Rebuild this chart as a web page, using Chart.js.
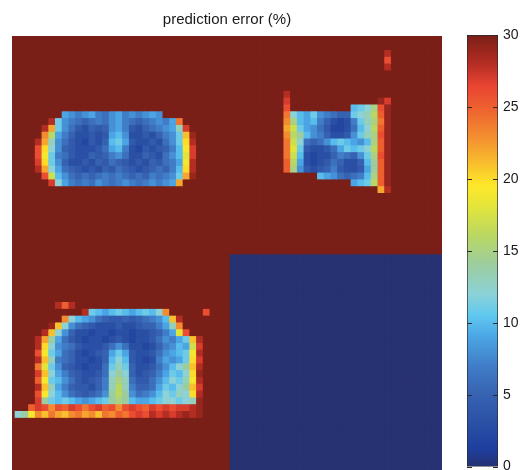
<!DOCTYPE html>
<html>
<head>
<meta charset="utf-8">
<script src="https://cdn.jsdelivr.net/npm/chart.js@4.4.1/dist/chart.umd.min.js"></script>
<style>
  html, body { margin: 0; padding: 0; background: #ffffff; overflow: hidden; width: 525px; height: 470px; }
  #main { position: absolute; left: 0; top: 0; }
  #cbar { position: absolute; left: 440px; top: 0; }
</style>
</head>
<body>
<canvas id="main" width="455" height="480"></canvas>
<canvas id="cbar" width="85" height="480"></canvas>
<script>
// ---------------- data ----------------
const titleText = "prediction error (%)";
// value levels: '0'..'9' = 0..9, 'A'..'U' = 10..30 (30 = saturated)
const levelChars = "0123456789ABCDEFGHIJKLMNOPQRSTU";
// 64 rows (top to bottom) x 64 columns (left to right)
const errorRows = [
"UUUUUUUU UUUUUUUU UUUUUUUU UUUUUUUU UUUUUUUU UUUUUUUU UUUUUUUU UUUUUUUU",
"UUUUUUUU UUUUUUUU UUUUUUUU UUUUUUUU UUUUUUUU UUUUUUUU UUUUUUUU UUUUUUUU",
"UUUUUUUU UUUUUUUU UUUUUUUU UUUUUUUU UUUUUUUU UUUUUUUU UUUUUUUS UUUUUUUU",
"UUUUUUUU UUUUUUUU UUUUUUUU UUUUUUUU UUUUUUUU UUUUUUUU UUUUUUUQ UUUUUUUU",
"UUUUUUUU UUUUUUUU UUUUUUUU UUUUUUUU UUUUUUUU UUUUUUUU UUUUUUUS UUUUUUUU",
"UUUUUUUU UUUUUUUU UUUUUUUU UUUUUUUU UUUUUUUU UUUUUUUU UUUUUUUU UUUUUUUU",
"UUUUUUUU UUUUUUUU UUUUUUUU UUUUUUUU UUUUUUUU UUUUUUUU UUUUUUUU UUUUUUUU",
"UUUUUUUU UUUUUUUU UUUUUUUU UUUUUUUU UUUUUUUU UUUUUUUU UUUUUUUU UUUUUUUU",
"UUUUUUUU UUUUUUUU UUUUUUUU UUUUUUUU UUUUUUUU SUUUUUUU UUUUUUUU UUUUUUUU",
"UUUUUUUU UUUUUUUU UUUUUUUU UUUUUUUU UUUUUUUU RUUUUUUU UUUUUUTR UUUUUUUU",
"UUUUUUUU UUUUUUUU UUUUUUUU UUUUUUUU UUUUUUUU QUUUUUUU UUABCFQT UUUUUUUU",
"UUUUUUU9 87897689 787898UU UUUUUUUU UUUUUUUU OCA9B876 55BCDGPT UUUUUUUU",
"UUUUUSB8 76567689 76567879 OUUUUUUU UUUUUUUU NFA9A753 237BDFOT UUUUUUUU",
"UUUUSMB8 64354589 74356789 DRUUUUUU UUUUUUUU MHB98642 236ACGPT UUUUUUUU",
"UUUUNG97 5334349A 83343578 BLTUUUUU UUUUUUUU NGEA8753 348BDFQT UUUUUUUU",
"UUUSMD86 432435AB 94334368 BKSUUUUU UUUUUUUU OHC6568A BA98AFPT UUUUUUUU",
"UUUQKC85 4333469A 73243457 AJRUUUUU UUUUUUUU OIB43346 9BABCGPT UUUUUUUU",
"UUUQJB76 43354578 63354368 AIRUUUUU UUUUUUUU OHA32335 7658BFQT UUUUUUUU",
"UUURKB85 33435465 43435467 9JSUUUUU UUUUUUUU PG932346 5335AEPT UUUUUUUU",
"UUUSMC96 54343546 54345657 AKSUUUUU UUUUUUUU PF843457 43349EPT UUUUUUUU",
"UUUUQHA8 65656767 65657678 BMTUUUUU UUUUUUUU UUUUUA98 6567AFPT UUUUUUUU",
"UUUUURC9 76768767 87678789 MUUUUUUU UUUUUUUU UUUUUUUU UU9ABGPT UUUUUUUU",
"UUUUUUUU UUUUUUUU UUUUUUUU UUUUUUUU UUUUUUUU UUUUUUUU UUUUUUMS UUUUUUUU",
"UUUUUUUU UUUUUUUU UUUUUUUU UUUUUUUU UUUUUUUU UUUUUUUU UUUUUUUU UUUUUUUU",
"UUUUUUUU UUUUUUUU UUUUUUUU UUUUUUUU UUUUUUUU UUUUUUUU UUUUUUUU UUUUUUUU",
"UUUUUUUU UUUUUUUU UUUUUUUU UUUUUUUU UUUUUUUU UUUUUUUU UUUUUUUU UUUUUUUU",
"UUUUUUUU UUUUUUUU UUUUUUUU UUUUUUUU UUUUUUUU UUUUUUUU UUUUUUUU UUUUUUUU",
"UUUUUUUU UUUUUUUU UUUUUUUU UUUUUUUU UUUUUUUU UUUUUUUU UUUUUUUU UUUUUUUU",
"UUUUUUUU UUUUUUUU UUUUUUUU UUUUUUUU UUUUUUUU UUUUUUUU UUUUUUUU UUUUUUUU",
"UUUUUUUU UUUUUUUU UUUUUUUU UUUUUUUU UUUUUUUU UUUUUUUU UUUUUUUU UUUUUUUU",
"UUUUUUUU UUUUUUUU UUUUUUUU UUUUUUUU UUUUUUUU UUUUUUUU UUUUUUUU UUUUUUUU",
"UUUUUUUU UUUUUUUU UUUUUUUU UUUUUUUU UUUUUUUU UUUUUUUU UUUUUUUU UUUUUUUU",
"UUUUUUUU UUUUUUUU UUUUUUUU UUUUUUUU 00000000 00000000 00000000 00000000",
"UUUUUUUU UUUUUUUU UUUUUUUU UUUUUUUU 00000000 00000000 00000000 00000000",
"UUUUUUUU UUUUUUUU UUUUUUUU UUUUUUUU 00000000 00000000 00000000 00000000",
"UUUUUUUU UUUUUUUU UUUUUUUU UUUUUUUU 00000000 00000000 00000000 00000000",
"UUUUUUUU UUUUUUUU UUUUUUUU UUUUUUUU 00000000 00000000 00000000 00000000",
"UUUUUUUU UUUUUUUU UUUUUUUU UUUUUUUU 00000000 00000000 00000000 00000000",
"UUUUUUUU UUUUUUUU UUUUUUUU UUUUUUUU 00000000 00000000 00000000 00000000",
"UUUUUUSP SUUUUUUU UUUUUUUU UUUUUUUU 00000000 00000000 00000000 00000000",
"UUUUUUUU UUSBA9AB A9ABACNU UUUUQUUU 00000000 00000000 00000000 00000000",
"UUUUUUUN CA986544 545678AL SUUUUUUU 00000000 00000000 00000000 00000000",
"UUUUUTLC 86543334 3345579D NUUUUUUU 00000000 00000000 00000000 00000000",
"UUUUSLC8 53323323 32334579 IQUUUUUU 00000000 00000000 00000000 00000000",
"UUUSME96 43233234 32334687 9BLSUUUU 00000000 00000000 00000000 00000000",
"UUUSKC87 64333468 63323578 A9HRUUUU 00000000 00000000 00000000 00000000",
"UUUQJB96 5323459B 94334689 ABJSUUUU 00000000 00000000 00000000 00000000",
"UUUSLD76 533235AC A4323798 9BKRUUUU 00000000 00000000 00000000 00000000",
"UUUOIB85 432336BD B533468A CELSUUUU 00000000 00000000 00000000 00000000",
"UUURLC97 543346CE C534579B ACKTUUUU 00000000 00000000 00000000 00000000",
"UUUPJBA8 643457DF D64468AC BDJSUUUU 00000000 00000000 00000000 00000000",
"UUUSLD97 544357DG D75569BA CELRUUUU 00000000 00000000 00000000 00000000",
"UUUQJCA8 654568EG E8678ACB DCKSUUUU 00000000 00000000 00000000 00000000",
"UUUREBAB A989ABEF EA99ABCC BCDTUUUU 00000000 00000000 00000000 00000000",
"UUPRQNQP RQOQRPQN QRQPRQRQ RRSTUUUU 00000000 00000000 00000000 00000000",
"CEJNLOML NOMNLONP OQRQSRSR STSTUUUU 00000000 00000000 00000000 00000000",
"UUUUUUUU UUUUUUUU UUUUUUUU UUUUUUUU 00000000 00000000 00000000 00000000",
"UUUUUUUU UUUUUUUU UUUUUUUU UUUUUUUU 00000000 00000000 00000000 00000000",
"UUUUUUUU UUUUUUUU UUUUUUUU UUUUUUUU 00000000 00000000 00000000 00000000",
"UUUUUUUU UUUUUUUU UUUUUUUU UUUUUUUU 00000000 00000000 00000000 00000000",
"UUUUUUUU UUUUUUUU UUUUUUUU UUUUUUUU 00000000 00000000 00000000 00000000",
"UUUUUUUU UUUUUUUU UUUUUUUU UUUUUUUU 00000000 00000000 00000000 00000000",
"UUUUUUUU UUUUUUUU UUUUUUUU UUUUUUUU 00000000 00000000 00000000 00000000",
"UUUUUUUU UUUUUUUU UUUUUUUU UUUUUUUU 00000000 00000000 00000000 00000000"
];
const colorbarMin = 0;
const colorbarMax = 30;
const colorbarTicks = [0, 5, 10, 15, 20, 25, 30];

// ---------------- colour map (style) ----------------
const colorStops = [
  [0,    [38, 50, 114]],
  [1.2,  [30, 62, 158]],
  [3,    [42, 80, 165]],
  [5,    [55, 98, 178]],
  [7,    [64, 125, 200]],
  [9,    [75, 165, 228]],
  [10.5, [95, 200, 240]],
  [12,   [140, 210, 215]],
  [14,   [155, 205, 160]],
  [16,   [185, 215, 100]],
  [18,   [225, 228, 60]],
  [19.5, [254, 232, 42]],
  [21,   [248, 192, 45]],
  [23,   [243, 140, 48]],
  [25,   [238, 95, 48]],
  [26.5, [232, 68, 50]],
  [28,   [180, 45, 35]],
  [30,   [122, 31, 23]]
];
function rgbStr(c) { return 'rgb(' + c.map(Math.round).join(',') + ')'; }
function colorFor(v) {
  if (v <= colorStops[0][0]) return rgbStr(colorStops[0][1]);
  for (let i = 1; i < colorStops.length; i++) {
    const [v1, c1] = colorStops[i];
    const [v0, c0] = colorStops[i - 1];
    if (v <= v1) {
      const t = (v - v0) / (v1 - v0);
      return rgbStr(c0.map((a, k) => a + (c1[k] - a) * t));
    }
  }
  return rgbStr(colorStops[colorStops.length - 1][1]);
}

// ---------------- build cells ----------------
const grid = errorRows.map(r => r.replace(/ /g, '').padEnd(64, 'U').slice(0, 64)
  .split('').map(ch => Math.max(0, levelChars.indexOf(ch))));
const nRows = grid.length;
const nCols = grid[0].length;

const datasets = grid.map((vals, r) => ({
  data: vals.map((v, c) => ({ x: c, y: [r, r + 1] })),
  backgroundColor: vals.map(v => colorFor(v)),
  borderWidth: 0,
  grouped: false,
  barPercentage: 1,
  categoryPercentage: 1
}));

const fontFamily = "'Liberation Sans', Arial, Helvetica, sans-serif";

const areaBackground = {
  id: 'areaBackground',
  beforeDatasetsDraw(chart) {
    const { ctx, chartArea: a } = chart;
    ctx.save();
    ctx.fillStyle = colorFor(colorbarMax);
    ctx.fillRect(a.left, a.top, a.right - a.left, a.bottom - a.top);
    ctx.restore();
  }
};

new Chart(document.getElementById('main'), {
  type: 'bar',
  data: { datasets },
  options: {
    responsive: false,
    animation: false,
    events: [],
    devicePixelRatio: 1,
    layout: { padding: { left: 12, right: 13, top: 0, bottom: 8 } },
    plugins: {
      legend: { display: false },
      tooltip: { enabled: false },
      title: {
        display: true,
        text: titleText,
        color: '#1a1a1a',
        font: { family: fontFamily, size: 15, weight: 'normal' },
        padding: { top: 11, bottom: 7 }
      }
    },
    scales: {
      x: { type: 'linear', min: -0.95, max: nCols - 0.95, offset: false, display: false },
      y: { type: 'linear', min: 0, max: nRows, reverse: true, display: false }
    }
  },
  plugins: [areaBackground]
});

// ---------------- colour bar ----------------
const cbarTickMarks = {
  id: 'cbarTickMarks',
  afterDatasetsDraw(chart) {
    const { ctx, chartArea: a } = chart;
    const ys = chart.scales.y;
    ctx.save();
    ctx.strokeStyle = '#2a2a2a';
    ctx.lineWidth = 1;
    ys.ticks.forEach(t => {
      const y = Math.round(ys.getPixelForValue(t.value)) + 0.5;
      ctx.beginPath();
      ctx.moveTo(a.left, y); ctx.lineTo(a.left + 5, y);
      ctx.moveTo(a.right - 5, y); ctx.lineTo(a.right, y);
      ctx.stroke();
    });
    ctx.restore();
  }
};

new Chart(document.getElementById('cbar'), {
  type: 'bar',
  data: {
    labels: [''],
    datasets: [{
      data: [[colorbarMin, colorbarMax]],
      backgroundColor: (context) => {
        const chart = context.chart;
        const { ctx, chartArea } = chart;
        if (!chartArea) return null;
        const ys = chart.scales.y;
        const g = ctx.createLinearGradient(0, ys.getPixelForValue(colorbarMin), 0, ys.getPixelForValue(colorbarMax));
        colorStops.forEach(([v, c]) => g.addColorStop((v - colorbarMin) / (colorbarMax - colorbarMin), rgbStr(c)));
        return g;
      },
      borderColor: '#2a2a2a',
      borderWidth: 1,
      borderSkipped: false,
      barPercentage: 1,
      categoryPercentage: 1
    }]
  },
  options: {
    responsive: false,
    animation: false,
    events: [],
    devicePixelRatio: 1,
    layout: { padding: { left: 27, right: 0, top: 35, bottom: 13 } },
    plugins: { legend: { display: false }, tooltip: { enabled: false } },
    scales: {
      x: { display: false },
      y: {
        position: 'right',
        min: colorbarMin,
        max: colorbarMax,
        afterBuildTicks: s => { s.ticks = colorbarTicks.map(v => ({ value: v })); },
        afterFit: s => { s.width = 27; },
        ticks: { padding: 5, color: '#1a1a1a', font: { family: fontFamily, size: 14 } },
        grid: { display: false, drawTicks: false },
        border: { display: false }
      }
    }
  },
  plugins: [cbarTickMarks]
});
</script>
</body>
</html>
